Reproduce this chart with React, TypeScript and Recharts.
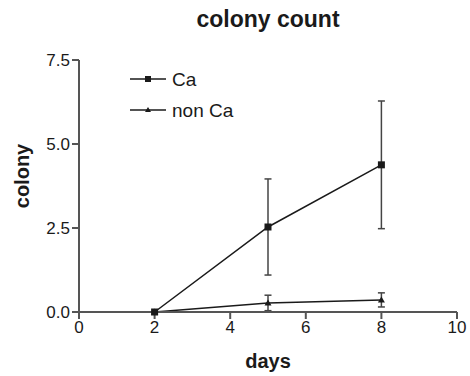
import React from "react";
import { LineChart, Line, XAxis, YAxis, ErrorBar } from "recharts";

const days = [2, 5, 8];
const caValues = [0, 2.53, 4.38];
const caErrors = [0, 1.43, 1.9];
const nonCaValues = [0, 0.27, 0.36];
const nonCaErrors = [0, 0.23, 0.21];
const xTicks = [0, 2, 4, 6, 8, 10];
const yTicks = [0, 2.5, 5, 7.5];
const seriesNames = ["Ca", "non Ca"];

const data = days.map((d, i) => ({
  day: d,
  ca: caValues[i],
  caErr: caErrors[i],
  non: nonCaValues[i],
  nonErr: nonCaErrors[i],
}));

const FONT = "'Liberation Sans', Arial, sans-serif";
const INK = "#1a1a1a";
const AXIS = "#555";

const Square = (p: any) => {
  if (p.cx == null || p.cy == null) return <g key={p.key} />;
  return <rect key={p.key} x={p.cx - 3.5} y={p.cy - 3.5} width={7} height={7} fill={INK} />;
};
const Tri = (p: any) => {
  if (p.cx == null || p.cy == null) return <g key={p.key} />;
  return (
    <path
      key={p.key}
      d={`M${p.cx},${p.cy - 3.5} L${p.cx + 3.5},${p.cy + 2.5} L${p.cx - 3.5},${p.cy + 2.5} Z`}
      fill={INK}
    />
  );
};

const YLabel = (props: any) => {
  const vb = props.viewBox || { x: 0, y: 60, width: 79, height: 252 };
  const cx = 22;
  const cy = vb.y + vb.height / 2 - 10;
  return (
    <text
      x={cx}
      y={cy}
      transform={`rotate(-90 ${cx} ${cy})`}
      textAnchor="middle"
      dominantBaseline="central"
      fill={INK}
      fontSize={20}
      fontWeight="bold"
      fontFamily={FONT}
    >
      colony
    </text>
  );
};

const XLabel = (props: any) => {
  const vb = props.viewBox || { x: 79, y: 312, width: 378, height: 64 };
  const cx = vb.x + vb.width / 2;
  return (
    <text x={cx} y={368} textAnchor="middle" fill={INK} fontSize={20} fontWeight="bold" fontFamily={FONT}>
      days
    </text>
  );
};

const LegendOverlay = () => (
  <svg width={160} height={60} style={{ position: "absolute", left: 130, top: 64, overflow: "visible" }}>
    <line x1={0} y1={15} x2={36} y2={15} stroke={INK} strokeWidth={1.5} />
    <rect x={15} y={12} width={6} height={6} fill={INK} />
    <text x={42} y={22} fontFamily={FONT} fontSize={19} fill={INK}>{seriesNames[0]}</text>
    <line x1={0} y1={46} x2={36} y2={46} stroke={INK} strokeWidth={1.5} />
    <path d="M18,43 L21,48 L15,48 Z" fill={INK} />
    <text x={42} y={53} fontFamily={FONT} fontSize={19} fill={INK}>{seriesNames[1]}</text>
  </svg>
);

export default function App() {
  return (
    <div style={{ position: "absolute", left: 0, top: 0, width: 470, height: 376, background: "#fff", fontFamily: FONT }}>
      <div style={{ position: "absolute", left: 0, top: 0 }}>
        <LineChart width={470} height={376} data={data} margin={{ top: 60, right: 13, bottom: 0, left: 0 }}>
          <XAxis
            dataKey="day"
            type="number"
            domain={[0, 10]}
            ticks={xTicks}
            height={64}
            stroke={AXIS}
            strokeWidth={2}
            tickSize={7}
            tick={{ fill: INK, fontSize: 17, fontFamily: FONT }}
            tickLine={{ stroke: AXIS, strokeWidth: 2 }}
            label={<XLabel />}
          />
          <YAxis
            type="number"
            domain={[0, 7.5]}
            ticks={yTicks}
            width={79}
            stroke={AXIS}
            strokeWidth={2}
            tickSize={7}
            tickFormatter={(v: number) => v.toFixed(1)}
            tick={{ fill: INK, fontSize: 17, fontFamily: FONT }}
            tickLine={{ stroke: AXIS, strokeWidth: 2 }}
            label={<YLabel />}
          />
          <Line
            dataKey="ca"
            name={seriesNames[0]}
            stroke={INK}
            strokeWidth={1.5}
            dot={Square}
            activeDot={false}
            isAnimationActive={false}
          >
            <ErrorBar dataKey="caErr" width={3.5} stroke="#444" strokeWidth={1.5} direction="y" />
          </Line>
          <Line
            dataKey="non"
            name={seriesNames[1]}
            stroke={INK}
            strokeWidth={1.5}
            dot={Tri}
            activeDot={false}
            isAnimationActive={false}
          >
            <ErrorBar dataKey="nonErr" width={3.5} stroke="#444" strokeWidth={1.5} direction="y" />
          </Line>
        </LineChart>
      </div>
      <div
        style={{
          position: "absolute",
          left: 79,
          width: 378,
          top: 6,
          textAlign: "center",
          fontWeight: "bold",
          fontSize: 23,
          color: INK,
          lineHeight: "26px",
        }}
      >
        colony count
      </div>
      <LegendOverlay />
    </div>
  );
}
